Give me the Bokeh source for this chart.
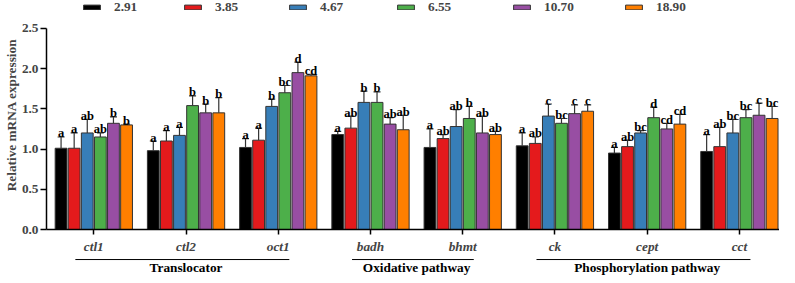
from bokeh.plotting import figure
from bokeh.layouts import column
from bokeh.models import (Range1d, LinearAxis, FixedTicker, PrintfTickFormatter, Legend,
                          LegendItem, ColumnDataSource)
from bokeh.core.properties import value
from bokeh.embed import file_html
from bokeh.resources import INLINE

categories = ["ctl1", "ctl2", "oct1", "badh", "bhmt", "ck", "cept", "cct"]
series = ["2.91", "3.85", "4.67", "6.55", "10.70", "18.90"]
colors = ["#000000", "#e41a1c", "#377eb8", "#4daf4a", "#984ea3", "#ff7f00"]

v_291 = [1.01, 0.98, 1.02, 1.18, 1.02, 1.04, 0.95, 0.97]
v_385 = [1.01, 1.10, 1.11, 1.26, 1.13, 1.07, 1.03, 1.03]
v_467 = [1.20, 1.17, 1.53, 1.58, 1.28, 1.41, 1.20, 1.20]
v_655 = [1.15, 1.54, 1.70, 1.58, 1.38, 1.32, 1.39, 1.39]
v_1070 = [1.32, 1.45, 1.95, 1.31, 1.20, 1.44, 1.25, 1.42]
v_1890 = [1.30, 1.45, 1.91, 1.24, 1.18, 1.47, 1.31, 1.38]

sd_291 = [0.14, 0.12, 0.11, 0.04, 0.23, 0.16, 0.07, 0.21]
sd_385 = [0.19, 0.13, 0.15, 0.15, 0.05, 0.08, 0.08, 0.24]
sd_467 = [0.17, 0.10, 0.09, 0.14, 0.21, 0.15, 0.03, 0.17]
sd_655 = [0.05, 0.12, 0.09, 0.13, 0.15, 0.06, 0.13, 0.10]
sd_1070 = [0.08, 0.11, 0.13, 0.08, 0.21, 0.11, 0.07, 0.15]
sd_1890 = [0.01, 0.19, 0.02, 0.18, 0.04, 0.08, 0.12, 0.15]

lt_291 = ["a", "a", "a", "a", "a", "a", "a", "a"]
lt_385 = ["a", "a", "a", "ab", "ab", "ab", "ab", "ab"]
lt_467 = ["ab", "a", "b", "b", "ab", "c", "bc", "bc"]
lt_655 = ["ab", "b", "bc", "b", "b", "bc", "d", "bc"]
lt_1070 = ["b", "b", "d", "ab", "ab", "c", "cd", "c"]
lt_1890 = ["b", "b", "cd", "ab", "ab", "c", "cd", "bc"]

groups = ["Translocator", "Oxidative pathway", "Phosphorylation pathway"]
group_members = [[0, 1, 2], [3, 4], [5, 6, 7]]

y_ticks = [0, 0.5, 1.0, 1.5, 2.0, 2.5]

values = [v_291, v_385, v_467, v_655, v_1070, v_1890]
sds = [sd_291, sd_385, sd_467, sd_655, sd_1070, sd_1890]
letters = [lt_291, lt_385, lt_467, lt_655, lt_1070, lt_1890]

FONT = "Liberation Serif"
EDGE = "#333333"
W = 779
LEFT = 40
# horizontal slot (px from the frame's left edge) of each legend entry
legend_slots = [35, 136, 241, 349, 465, 577]

p = figure(width=W, height=256, output_backend="svg", toolbar_location=None,
           x_range=Range1d(-0.513, 7.435), y_range=Range1d(0, 2.5 + 28 / 80.8),
           x_axis_type=None, min_border_left=LEFT, min_border_right=0,
           min_border_top=0, min_border_bottom=26)
p.outline_line_color = None
p.ygrid.visible = False

step = 0.142
width = 0.128
n = len(series)
for j, s in enumerate(series):
    xs = [i + (j - (n - 1) / 2) * step for i in range(len(categories))]
    tops = [a + b for a, b in zip(values[j], sds[j])]
    src = ColumnDataSource(dict(x=xs, top=values[j], et=tops, lab=letters[j]))
    r = p.vbar(x="x", top="top", bottom=0, width=width, source=src,
               fill_color=colors[j], line_color=EDGE, line_width=1)
    p.segment(x0="x", y0="top", x1="x", y1="et", source=src, line_color=EDGE, line_width=1.2)
    p.scatter(x="x", y="et", marker="dash", size=7, source=src, line_color=EDGE, line_width=1.2)
    p.text(x="x", y="et", text="lab", source=src, text_font=value(FONT),
           text_font_style="bold", text_font_size="12.5px", text_align="center",
           text_baseline="alphabetic", y_offset=-3.5, text_color="#000000")
    lg = Legend(items=[LegendItem(label=s, renderers=[r])], orientation="horizontal",
                location=(legend_slots[j], 214),
                glyph_width=21, glyph_height=6, label_standoff=12, spacing=0,
                padding=0, margin=0, border_line_color=None, background_fill_alpha=0,
                label_text_font=FONT, label_text_font_style="bold",
                label_text_font_size="13.3px", label_height=14)
    p.add_layout(lg)

# y axis
ya = p.yaxis[0]
ya.bounds = (y_ticks[0], y_ticks[-1])
ya.ticker = FixedTicker(ticks=y_ticks)
ya.formatter = PrintfTickFormatter(format="%.1f")
ya.major_label_text_font = FONT
ya.major_label_text_font_style = "bold"
ya.major_label_text_font_size = "13.3px"
ya.major_tick_out = 6
ya.major_tick_in = 0
ya.minor_tick_out = 0
ya.minor_tick_in = 0
ya.axis_line_width = 1.5
ya.major_tick_line_width = 1.5
ya.major_label_standoff = 2
ya.axis_label = "Relative mRNA expression"
ya.axis_label_text_font = FONT
ya.axis_label_text_font_style = "bold"
ya.axis_label_text_font_size = "13.3px"
ya.axis_label_standoff = 0

# category axis
xa = LinearAxis(ticker=FixedTicker(ticks=list(range(len(categories)))),
                major_label_overrides={i: c for i, c in enumerate(categories)})
xa.major_label_text_font = FONT
xa.major_label_text_font_style = "bold italic"
xa.major_label_text_font_size = "13.3px"
xa.major_tick_out = 5
xa.major_tick_in = 0
xa.minor_tick_out = 0
xa.minor_tick_in = 0
xa.axis_line_width = 1.5
xa.major_tick_line_width = 1.5
xa.major_label_standoff = 4
p.add_layout(xa, "below")

# group strip below
q = figure(width=W, height=19, output_backend="svg", toolbar_location=None,
           x_range=p.x_range, y_range=Range1d(0, 1), x_axis_type=None, y_axis_type=None,
           min_border_left=LEFT, min_border_right=0, min_border_top=0, min_border_bottom=0)
q.outline_line_color = None
q.grid.visible = False
gx0 = [m[0] - 0.2 for m in group_members]
gx1 = [m[-1] + 0.12 for m in group_members]
gc = [sum(m) / len(m) for m in group_members]
q.segment(x0=gx0, y0=[0.84] * len(groups), x1=gx1, y1=[0.84] * len(groups),
          line_color="#000000", line_width=1)
q.text(x=gc, y=[0.42] * len(groups), text=groups, text_font=value(FONT),
       text_font_style="bold", text_font_size="13.3px", text_align="center",
       text_baseline="middle", text_color="#000000")

layout = column(p, q, spacing=0)
open("out.html", "w").write(file_html(layout, INLINE))
